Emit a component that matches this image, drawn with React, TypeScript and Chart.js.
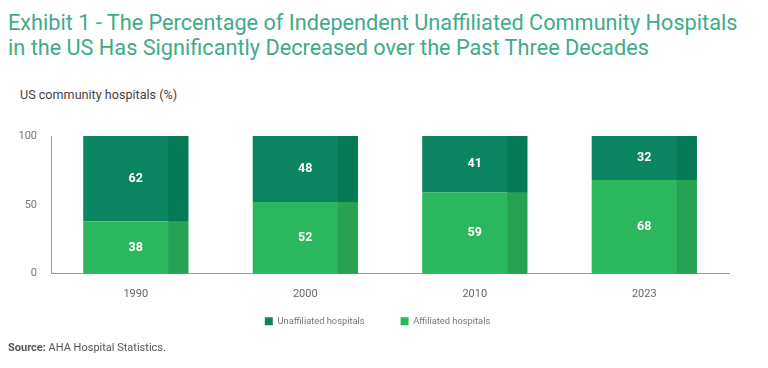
import React, { useEffect, useRef } from "react";
import { Chart, registerables } from "chart.js";

Chart.register(...registerables);

const categories = ["1990", "2000", "2010", "2023"];
const unaffiliated = [62, 48, 41, 32];
const affiliated = [38, 52, 59, 68];
const yTicks = [0, 50, 100];

const DARK = "#0b8461";
const DARK_SIDE = "#057a57";
const LIGHT = "#2bb85c";
const LIGHT_SIDE = "#26a352";

const FONT = "Roboto, 'Noto Sans', sans-serif";
const LEGEND_PAD = 36;

const sidePlugin = {
  id: "sideShade",
  afterLayout(chart: any) {
    const lg = chart.legend;
    if (lg) {
      const shift = 23;
      lg.top -= shift;
      lg.bottom -= shift;
      lg.left += 13;
      lg.right += 13;
    }
  },
  afterDatasetsDraw(chart: any) {
    const ctx = chart.ctx;
    chart.data.datasets.forEach((ds: any, di: number) => {
      const meta = chart.getDatasetMeta(di);
      meta.data.forEach((bar: any, i: number) => {
        const { x, y, base, width } = bar.getProps(["x", "y", "base", "width"], true);
        const right = x + width / 2;
        const sw = width * 0.19;
        ctx.save();
        ctx.fillStyle = ds.sideColor;
        ctx.fillRect(right - sw, Math.min(y, base), sw, Math.abs(base - y));
        ctx.fillStyle = "#ffffff";
        ctx.font = `bold 12.5px ${FONT}`;
        ctx.textAlign = "center";
        ctx.textBaseline = "middle";
        ctx.fillText(String(ds.data[i]), x, (y + base) / 2);
        ctx.restore();
      });
    });
  },
};

export default function App() {
  const ref = useRef<HTMLCanvasElement>(null);
  useEffect(() => {
    if (!ref.current) return;
    const chart = new Chart(ref.current, {
      type: "bar",
      data: {
        labels: categories,
        datasets: [
          {
            label: "Affiliated hospitals",
            data: affiliated,
            backgroundColor: LIGHT,
            sideColor: LIGHT_SIDE,
          } as any,
          {
            label: "Unaffiliated hospitals",
            data: unaffiliated,
            backgroundColor: DARK,
            sideColor: DARK_SIDE,
          } as any,
        ],
      },
      options: {
        animation: false,
        responsive: false,
        maintainAspectRatio: false,
        layout: { padding: { top: 16, right: 39, left: 0, bottom: 0 } },
        datasets: { bar: { categoryPercentage: 1, barPercentage: 0.62 } },
        scales: {
          x: {
            stacked: true,
            grid: { display: false },
            border: { display: true, color: "#9a9a9a" },
            ticks: { color: "#666", font: { family: FONT, size: 11 }, padding: 6 },
            afterFit: (s: any) => {
              s.height = 30;
            },
          },
          y: {
            stacked: true,
            min: 0,
            max: 100,
            afterBuildTicks: (s: any) => {
              s.ticks = yTicks.map((v) => ({ value: v }));
            },
            grid: { display: false },
            border: { display: true, color: "#9a9a9a" },
            ticks: { color: "#777", font: { family: FONT, size: 11 }, padding: 6 },
            afterFit: (s: any) => {
              s.width = 51;
            },
          },
        },
        plugins: {
          legend: {
            position: "bottom",
            labels: {
              boxWidth: 8,
              boxHeight: 8,
              padding: LEGEND_PAD,
              color: "#777",
              font: { family: FONT, size: 9.3 },
              sort: (a: any, b: any) => b.datasetIndex - a.datasetIndex,
            },
          },
          tooltip: { enabled: false },
        },
      } as any,
      plugins: [sidePlugin],
    });
    return () => chart.destroy();
  }, []);

  return (
    <div style={{ position: "fixed", left: 0, top: 0, width: 768, height: 368, background: "#fff", fontFamily: FONT }}>
      <div style={{ position: "absolute", left: 8, top: 10, color: "#3fab8b", fontSize: 21.7, lineHeight: "25px", whiteSpace: "nowrap" }}>
        Exhibit 1 - The Percentage of Independent Unaffiliated Community Hospitals
        <br />
        in the US Has Significantly Decreased over the Past Three Decades
      </div>
      <div style={{ position: "absolute", left: 20, top: 87, color: "#444", fontSize: 12.6 }}>US community hospitals (%)</div>
      <canvas ref={ref} width={768} height={239} style={{ position: "absolute", left: 0, top: 120, width: 768, height: 239 }} />
      <div style={{ position: "absolute", left: 8, top: 341, color: "#555", fontSize: 11 }}>
        <b>Source:</b> AHA Hospital Statistics.
      </div>
    </div>
  );
}
